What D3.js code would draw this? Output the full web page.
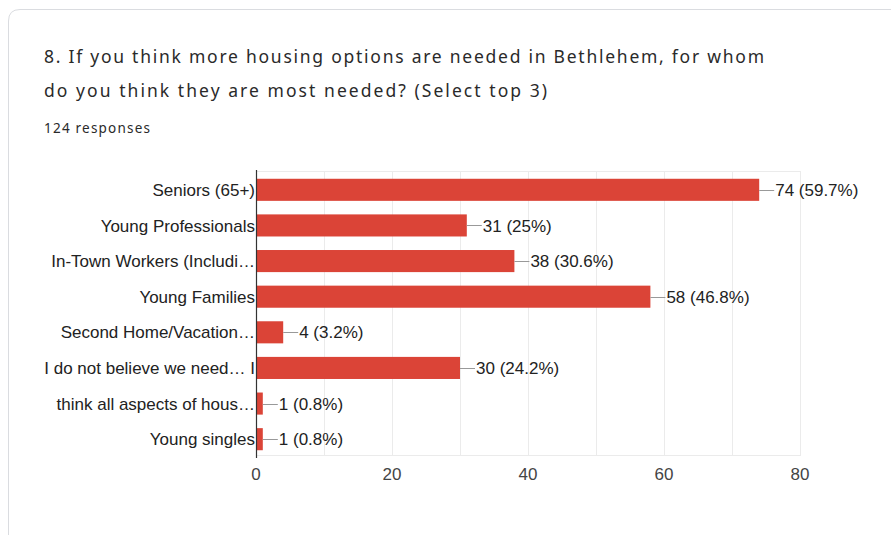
<!DOCTYPE html>
<html>

<head>
    <title>Housing options chart</title>
    <meta charset="utf-8">
    <script src="https://cdn.jsdelivr.net/npm/d3@7/dist/d3.min.js"></script>
    <style>
        body { margin: 0; background: #fff; }
    </style>
</head>

<body>
    <svg width="891" height="535"></svg>
</body>
<script>
    // chart data
    var categories = [
        "Seniors (65+)",
        "Young Professionals",
        "In-Town Workers (Includi\u2026",
        "Young Families",
        "Second Home/Vacation\u2026",
        "I do not believe we need\u2026 I",
        "think all aspects of hous\u2026",
        "Young singles"
    ];
    var counts = [74, 31, 38, 58, 4, 30, 1, 1];
    var percents = ["59.7%", "25%", "30.6%", "46.8%", "3.2%", "24.2%", "0.8%", "0.8%"];
    var xTicks = [0, 20, 40, 60, 80];
    var gridTicks = [0, 10, 20, 30, 40, 50, 60, 70, 80];

    var svg = d3.select("svg");
    var labelFont = "Arial, 'Liberation Sans', sans-serif";

    // card outline
    svg.append("path")
        .attr("d", "M8.5,535 L8.5,21 Q8.5,9.5 20,9.5 L891,9.5")
        .attr("fill", "none")
        .attr("stroke", "#dadce0");

    // title
    var title = svg.append("g").attr("font-family", "'Noto Sans', sans-serif").attr("fill", "#2a2a2a");
    title.append("text").attr("x", 44).attr("y", 63).attr("font-size", 17.5)
        .attr("textLength", 720).attr("lengthAdjust", "spacing")
        .text("8. If you think more housing options are needed in Bethlehem, for whom");
    title.append("text").attr("x", 44).attr("y", 97).attr("font-size", 17.5)
        .attr("textLength", 503).attr("lengthAdjust", "spacing")
        .text("do you think they are most needed? (Select top 3)");
    title.append("text").attr("x", 44).attr("y", 133).attr("font-size", 13.5)
        .attr("textLength", 106).attr("lengthAdjust", "spacing")
        .text("124 responses");

    var x = d3.scaleLinear().domain([0, 80]).range([256, 800]);
    var y = d3.scaleBand().domain(categories).range([172, 457]).paddingInner(0.38).paddingOuter(0.19);

    // grid
    svg.append("g").selectAll("line").data(gridTicks).enter().append("line")
        .attr("x1", function (d) { return Math.round(x(d)) + 0.5; })
        .attr("x2", function (d) { return Math.round(x(d)) + 0.5; })
        .attr("y1", 171).attr("y2", 456)
        .attr("stroke", "#ebebeb");
    svg.append("line").attr("x1", 256).attr("x2", 800.5).attr("y1", 171.5).attr("y2", 171.5).attr("stroke", "#ebebeb");
    svg.append("line").attr("x1", 256).attr("x2", 800.5).attr("y1", 455.5).attr("y2", 455.5).attr("stroke", "#ebebeb");

    // bars
    svg.append("g").selectAll("rect").data(counts).enter().append("rect")
        .attr("x", x(0))
        .attr("y", function (d, i) { return y(categories[i]); })
        .attr("width", function (d) { return x(d) - x(0); })
        .attr("height", y.bandwidth())
        .attr("fill", "#db4437");

    // leader lines + value labels
    var lab = svg.append("g").attr("font-family", labelFont).attr("font-size", 17);
    counts.forEach(function (d, i) {
        var cy = y(categories[i]) + y.bandwidth() / 2;
        lab.append("line").attr("x1", x(d)).attr("x2", x(d) + 15)
            .attr("y1", Math.round(cy) + 0.5).attr("y2", Math.round(cy) + 0.5)
            .attr("stroke", "#999");
        lab.append("text").attr("x", x(d) + 16).attr("y", cy).attr("dy", "0.36em")
            .attr("fill", "#222")
            .text(d + " (" + percents[i] + ")");
    });

    // category labels
    svg.append("g").attr("font-family", labelFont).attr("font-size", 17)
        .attr("text-anchor", "end").attr("fill", "#222")
        .selectAll("text").data(categories).enter().append("text")
        .attr("x", 255)
        .attr("y", function (d) { return y(d) + y.bandwidth() / 2; })
        .attr("dy", "0.36em")
        .text(function (d) { return d; });

    // axis
    svg.append("line").attr("x1", 256.5).attr("x2", 256.5).attr("y1", 170).attr("y2", 458).attr("stroke", "#333").attr("stroke-width", 1.2);
    svg.append("g").attr("font-family", labelFont).attr("font-size", 17)
        .attr("text-anchor", "middle").attr("fill", "#444")
        .selectAll("text").data(xTicks).enter().append("text")
        .attr("x", function (d) { return x(d); })
        .attr("y", 480)
        .text(function (d) { return d; });
</script>

</html>
